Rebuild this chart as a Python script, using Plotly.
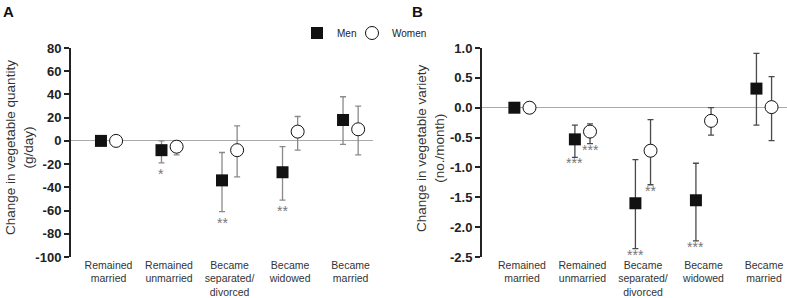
import plotly.graph_objects as go

categories = ["Remained<br>married", "Remained<br>unmarried", "Became<br>separated/<br>divorced",
              "Became<br>widowed", "Became<br>married"]

# Panel A: change in vegetable quantity (g/day)
qty_men = [0, -8, -34, -27, 18]
qty_men_lo = [0, -19, -61, -51, -3]
qty_men_hi = [0, 0, -10, -5, 38]
qty_women = [0, -5, -8, 8, 10]
qty_women_lo = [0, -12, -31, -8, -12]
qty_women_hi = [0, -1, 13, 21, 30]
qty_men_sig = ["", "*", "**", "**", ""]
qty_women_sig = ["", "", "", "", ""]

# Panel B: change in vegetable variety (no./month)
var_men = [0, -0.53, -1.60, -1.55, 0.32]
var_men_lo = [0, -0.83, -2.36, -2.23, -0.29]
var_men_hi = [0, -0.29, -0.87, -0.93, 0.91]
var_women = [0, -0.40, -0.72, -0.22, 0.01]
var_women_lo = [0, -0.60, -1.29, -0.46, -0.55]
var_women_hi = [0, -0.27, -0.20, 0.0, 0.52]
var_men_sig = ["", "***", "***", "***", ""]
var_women_sig = ["", "***", "**", "", ""]

qty_ticks = list(range(-100, 81, 20))
var_ticks = [-2.5, -2.0, -1.5, -1.0, -0.5, 0.0, 0.5, 1.0]

OFF = 0.125
idx = list(range(len(categories)))
FONT = "Liberation Sans, Arial, sans-serif"

fig = go.Figure()


def add_panel(xa, ya, men, mlo, mhi, women, wlo, whi, errcol, showleg):
    xm = [i - OFF for i in idx]
    xw = [i + OFF for i in idx]
    fig.add_trace(go.Scatter(
        x=xm, y=men, mode="markers", name="Men", showlegend=showleg, legend="legend",
        xaxis=xa, yaxis=ya,
        marker=dict(symbol="square", size=12, color="#111111", line=dict(width=0)),
        error_y=dict(type="data", symmetric=False,
                     array=[h - v for h, v in zip(mhi, men)],
                     arrayminus=[v - l for v, l in zip(men, mlo)],
                     color=errcol, thickness=1.3, width=3),
    ))
    fig.add_trace(go.Scatter(
        x=xw, y=women, mode="markers", name="Women", showlegend=showleg, legend="legend2",
        xaxis=xa, yaxis=ya,
        marker=dict(symbol="circle", size=13, color="white", line=dict(width=1, color="#111111")),
        error_y=dict(type="data", symmetric=False,
                     array=[h - v for h, v in zip(whi, women)],
                     arrayminus=[v - l for v, l in zip(women, wlo)],
                     color=errcol, thickness=1.3, width=3),
    ))


add_panel("x", "y", qty_men, qty_men_lo, qty_men_hi, qty_women, qty_women_lo, qty_women_hi, "#8a8a8a", True)
add_panel("x2", "y2", var_men, var_men_lo, var_men_hi, var_women, var_women_lo, var_women_hi, "#4a4a4a", False)

annotations = []


def add_stars(xref, yref, sig, lo, shift, ysh):
    for i, (s, l) in enumerate(zip(sig, lo)):
        if s:
            annotations.append(dict(x=i + shift, y=l, xref=xref, yref=yref, text=s, showarrow=False,
                                    yanchor="top", yshift=ysh,
                                    font=dict(family=FONT, size=14, color="#777777")))


add_stars("x", "y", qty_men_sig, qty_men_lo, -OFF, -1)
add_stars("x", "y", qty_women_sig, qty_women_lo, OFF, -1)
add_stars("x2", "y2", var_men_sig, var_men_lo, -OFF, 4)
add_stars("x2", "y2", var_women_sig, var_women_lo, OFF, 4)

# panel letters
annotations.append(dict(x=8 / 787, y=(257 - 11) / 209, xref="paper", yref="paper", text="<b>A</b>",
                        showarrow=False, xanchor="center", yanchor="middle",
                        font=dict(family=FONT, size=15, color="#111111")))
annotations.append(dict(x=418 / 787, y=(257 - 11) / 209, xref="paper", yref="paper", text="<b>B</b>",
                        showarrow=False, xanchor="center", yanchor="middle",
                        font=dict(family=FONT, size=15, color="#111111")))
# y titles
annotations.append(dict(x=19 / 787, y=(257 - 148) / 209, xref="paper", yref="paper",
                        text="Change in vegetable quantity<br>(g/day)", textangle=-90,
                        showarrow=False, xanchor="center", yanchor="middle",
                        font=dict(family=FONT, size=13.5, color="#333333")))
annotations.append(dict(x=430 / 787, y=(257 - 148) / 209, xref="paper", yref="paper",
                        text="Change in vegetable variety<br>(no./month)", textangle=-90,
                        showarrow=False, xanchor="center", yanchor="middle",
                        font=dict(family=FONT, size=13.5, color="#333333")))

axis_common = dict(showgrid=False, zeroline=False, showline=False, ticks="", automargin=False,
                   tickvals=idx, ticktext=categories,
                   tickfont=dict(family=FONT, size=10.5, color="#333333"))
yaxis_common = dict(showgrid=False, showline=True, linecolor="#222222", linewidth=2, automargin=False,
                    ticks="outside", ticklen=5, tickwidth=2, tickcolor="#222222",
                    zeroline=True, zerolinecolor="#aaaaaa", zerolinewidth=1.2,
                    tickfont=dict(family=FONT, size=13, color="#222222"))

legend_common = dict(orientation="h", y=(257 - 33) / 209, xanchor="left", yanchor="middle",
                     font=dict(family=FONT, size=10, color="#222222"), itemwidth=30,
                     bgcolor="rgba(0,0,0,0)")

fig.update_layout(
    width=787, height=298,
    margin=dict(l=0, r=0, t=48, b=41, autoexpand=False),
    paper_bgcolor="white", plot_bgcolor="white",
    xaxis=dict(domain=[71 / 787, 373 / 787], range=[-0.62, 4.37], **axis_common),
    xaxis2=dict(domain=[482 / 787, 1.0], range=[-0.66, 4.38], **axis_common),
    yaxis=dict(range=[-100, 80], tickvals=qty_ticks, ticktext=[f"<b>{t}</b>" for t in qty_ticks],
               **yaxis_common),
    yaxis2=dict(range=[-2.5, 1.0], anchor="x2", tickvals=var_ticks,
                ticktext=[f"<b>{t:.1f}</b>" for t in var_ticks], **yaxis_common),
    legend=dict(x=297 / 787, **legend_common),
    legend2=dict(x=352 / 787, **legend_common),
    annotations=annotations,
    showlegend=True,
)

fig.write_html("out.html", config={"displayModeBar": False},
               post_script="document.body.style.margin='0';")
